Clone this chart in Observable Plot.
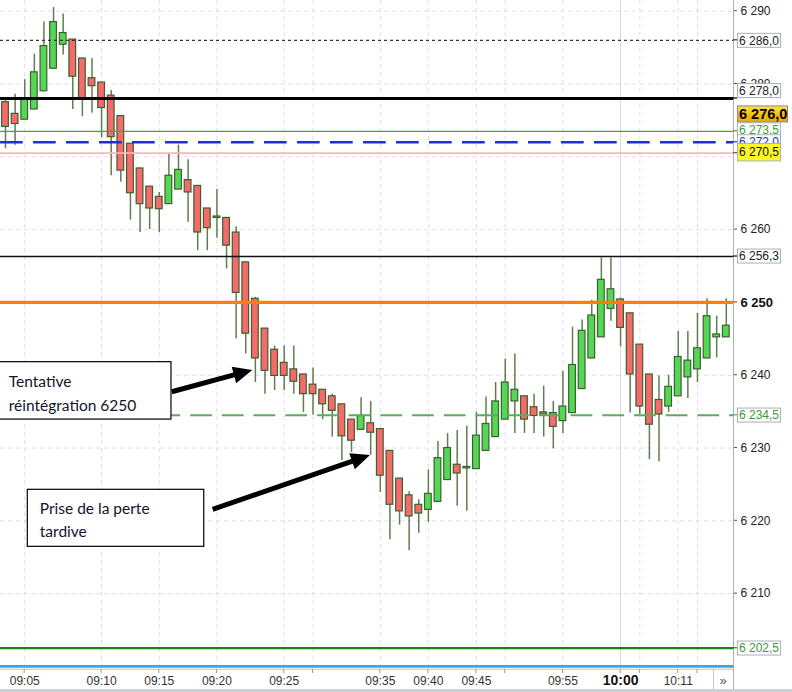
<!DOCTYPE html>
<html><head><meta charset="utf-8">
<script src="https://cdn.jsdelivr.net/npm/d3@7"></script>
<script src="https://cdn.jsdelivr.net/npm/@observablehq/plot@0.6"></script>
<style>
html,body{margin:0;padding:0;background:#fff;overflow:hidden;}
#chart svg{display:block;}
</style>
</head><body><div id="chart"></div>
<script>
// ---- data (candles, one per bar) ----
const opens = [6277.5, 6275.9, 6275.1, 6276.5, 6279.0, 6282.1, 6285.4, 6286.1, 6283.5, 6280.8,
 6280.2, 6278.4, 6275.6, 6271.8, 6268.4, 6265.9, 6264.5, 6263.5, 6265.5, 6266.8,
 6266.0, 6262.9, 6261.8, 6261.6, 6259.6, 6255.5, 6250.5, 6246.4, 6243.5, 6241.7,
 6240.8, 6240.1, 6238.7, 6238.0, 6237.1, 6236.0, 6233.9, 6232.5, 6233.4, 6232.6,
 6229.6, 6225.8, 6223.5, 6222.2, 6221.5, 6222.6, 6225.6, 6227.7, 6227.2, 6227.1,
 6229.6, 6231.5, 6233.9, 6236.4, 6237.1, 6235.6, 6234.9, 6234.8, 6233.7, 6234.8,
 6238.1, 6242.3, 6245.2, 6249.1, 6250.4, 6248.5, 6244.2, 6240.1, 6236.6, 6235.7,
 6237.1, 6239.7, 6240.8, 6242.3, 6245.2, 6245.2];
const highs = [6278.0, 6278.6, 6280.6, 6284.1, 6288.5, 6290.5, 6289.6, 6286.1, 6283.5, 6283.5,
 6280.2, 6279.1, 6275.6, 6271.8, 6268.4, 6265.9, 6265.1, 6270.5, 6271.6, 6269.6,
 6266.0, 6262.9, 6265.5, 6261.6, 6260.4, 6255.5, 6250.7, 6246.4, 6244.0, 6244.0,
 6244.0, 6240.1, 6241.0, 6238.0, 6237.4, 6236.0, 6233.9, 6236.9, 6236.4, 6232.6,
 6229.6, 6225.8, 6224.0, 6222.9, 6227.0, 6230.9, 6232.0, 6232.4, 6233.0, 6234.9,
 6237.0, 6239.0, 6242.2, 6242.9, 6237.1, 6237.4, 6238.5, 6236.4, 6240.5, 6246.6,
 6247.6, 6250.3, 6256.1, 6256.1, 6250.6, 6248.5, 6244.2, 6240.1, 6239.9, 6240.0,
 6246.0, 6246.0, 6248.5, 6250.5, 6248.1, 6250.5];
const lows = [6271.1, 6271.6, 6275.1, 6276.5, 6279.0, 6282.1, 6284.0, 6276.5, 6275.5, 6276.0,
 6272.6, 6267.4, 6266.5, 6261.3, 6259.6, 6260.0, 6259.6, 6263.5, 6265.5, 6261.0,
 6257.1, 6257.1, 6258.8, 6254.6, 6245.0, 6242.9, 6239.0, 6237.4, 6237.9, 6237.9,
 6237.4, 6234.9, 6234.5, 6233.9, 6231.5, 6228.3, 6229.4, 6232.4, 6229.0, 6223.9,
 6217.4, 6219.4, 6215.9, 6218.3, 6219.8, 6222.6, 6225.6, 6222.0, 6221.3, 6227.1,
 6229.6, 6231.5, 6233.9, 6232.0, 6232.0, 6232.0, 6231.5, 6229.9, 6232.0, 6234.8,
 6238.1, 6242.3, 6245.2, 6247.4, 6243.9, 6234.8, 6234.6, 6228.4, 6228.1, 6234.9,
 6237.1, 6236.8, 6239.0, 6242.3, 6242.4, 6245.2];
const closes = [6274.1, 6274.5, 6278.0, 6281.6, 6285.2, 6288.5, 6287.0, 6281.0, 6278.0, 6279.7,
 6276.7, 6272.7, 6268.1, 6265.0, 6263.5, 6262.9, 6262.8, 6267.4, 6268.2, 6265.1,
 6259.6, 6260.2, 6261.6, 6257.8, 6251.3, 6245.7, 6242.3, 6240.6, 6239.9, 6239.9,
 6239.1, 6237.4, 6237.4, 6236.0, 6235.1, 6231.6, 6231.0, 6234.4, 6232.1, 6226.2,
 6222.2, 6221.3, 6220.6, 6221.0, 6223.7, 6228.6, 6230.0, 6226.5, 6227.4, 6231.7,
 6233.3, 6236.4, 6239.0, 6238.0, 6233.9, 6234.4, 6234.6, 6232.9, 6235.7, 6241.4,
 6246.1, 6248.2, 6253.1, 6251.8, 6246.5, 6240.1, 6235.7, 6233.2, 6234.6, 6238.4,
 6242.5, 6242.0, 6243.7, 6248.1, 6245.6, 6246.8];

const gridPrices = [6210, 6220, 6230, 6240, 6250, 6260, 6270, 6280, 6290];
const yTickValues = [6290, 6280, 6260, 6240, 6230, 6220, 6210];
const yBoldTick = [6250];
const xTickIndex = [2, 10, 16, 22, 29, 32, 39, 44, 49, 52, 58, 64, 66, 70, 72];
const xTickLabels = ["09:05", "09:10", "09:15", "09:20", "09:25", "", "09:35", "09:40", "09:45", "", "09:55", "10:00", "", "10:11", ""];
const xBoldLabel = "10:00";
const levelPrices = [6286.0, 6278.0, 6276.0, 6273.5, 6272.0, 6270.5, 6256.3, 6250.0, 6234.5, 6202.5];

const noteTexts = ["Tentative\nréintégration 6250", "Prise de la perte\ntardive"];
const noteBoxIndex = [[-0.62, 17.27], [2.32, 20.68]];
const noteBoxPrice = [[6233.91, 6241.79], [6216.43, 6224.26]];
const noteTextAnchor = [[0.34, 6237.83], [3.57, 6220.36]];
const arrowFrom = [[17.35, 6237.66], [21.61, 6221.51]];
const arrowTo = [[25.73, 6240.65], [37.98, 6228.97]];

// ---- styles ----
const FONT = "'Liberation Sans', Arial, sans-serif";
const NOTE_FONT = "Lato, 'Open Sans', sans-serif";
const levelStyle = {
  6286:   {line: "#333", w: 1.2, dash: "3,3", box: "#fff", text: "#222", dy: 0.5},
  6278:   {line: "#000", w: 3, box: "#fff", text: "#222", dy: -7.5},
  6276:   {line: null, box: "url(#goldgrad)", text: "#000", dy: 1.3, h: 16, bw: 50, fs: 14.5, bold: true},
  6273.5: {line: "#4c9c4c", w: 1.4, box: "#fff", text: "#3a9a3a", dy: -1},
  6272:   {line: "#1f2fd6", w: 2.3, dash: "22.7,10.3", box: "#fff", text: "#1f2fd6", dy: 0},
  6270.5: {line: "#ffb5b5", w: 1.8, box: "#fbf72a", text: "#111", dy: -0.5, h: 17.5},
  6256.3: {line: "#111", w: 1.6, box: "#fff", text: "#222", dy: 0},
  6250:   {line: "#ff7d0a", w: 3.3, box: null},
  6234.5: {line: "#5aad5a", w: 2, dash: "21.7,10", box: "#fff", text: "#3a9a3a", dy: 0.3},
  6202.5: {line: "#138513", w: 2.3, box: "#fff", text: "#3a9a3a", dy: 0.3}
};
const boxOrder = [6286, 6278, 6276, 6273.5, 6272, 6270.5, 6256.3, 6234.5, 6202.5];

const locale = d3.formatLocale({decimal: ",", thousands: "\u00a0", grouping: [3], currency: ["", ""]});
const fmt1 = locale.format(",.1f");
const fmt0 = locale.format(",d");

const candles = opens.map((o, i) => ({i, open: o, high: highs[i], low: lows[i], close: closes[i]}));
const xTicks = xTickIndex.map((i, k) => ({i, label: xTickLabels[k]}));
const notes = noteTexts.map((t, k) => ({
  text: t, x1: noteBoxIndex[k][0], x2: noteBoxIndex[k][1],
  y1: noteBoxPrice[k][0], y2: noteBoxPrice[k][1],
  tx: noteTextAnchor[k][0], ty: noteTextAnchor[k][1]
}));

function chrome(index, scales, values, dims) {
  const x = scales.x, y = scales.y;
  const x0 = dims.width - dims.marginRight;
  const yb = dims.height - dims.marginBottom;
  const g = d3.create("svg:g");
  g.append("line").attr("x1", 0).attr("x2", x0).attr("y1", yb - 3.6).attr("y2", yb - 3.6)
    .attr("stroke", "#3aa5ec").attr("stroke-width", 2.6);
  g.append("line").attr("x1", 0).attr("x2", x0).attr("y1", yb - 0.8).attr("y2", yb - 0.8)
    .attr("stroke", "#b9bfc7").attr("stroke-width", 1);
  for (const i of xTickIndex) {
    g.append("line").attr("x1", x(i)).attr("x2", x(i)).attr("y1", yb - 1).attr("y2", yb + 3)
      .attr("stroke", "#8f98a3");
  }
  for (const p of yTickValues.concat(yBoldTick)) {
    g.append("line").attr("x1", x0).attr("x2", x0 + 4).attr("y1", y(p)).attr("y2", y(p))
      .attr("stroke", "#555");
  }
  g.append("line").attr("x1", x0 + 0.5).attr("x2", x0 + 0.5).attr("y1", 0).attr("y2", dims.height - 3)
    .attr("stroke", "#a7aeb8").attr("stroke-width", 1);
  g.append("line").attr("x1", x0 - 19.5).attr("x2", x0 - 19.5).attr("y1", yb - 1).attr("y2", dims.height - 3)
    .attr("stroke", "#c2c7ce");
  g.append("text").attr("x", x0 - 10).attr("y", yb + 10).attr("dy", "0.35em")
    .attr("text-anchor", "middle").attr("font-family", FONT).attr("font-size", 13)
    .attr("fill", "#555").text("»");
  g.append("rect").attr("x", 0).attr("y", dims.height - 3).attr("width", dims.width).attr("height", 3)
    .attr("fill", "#cdd1d6");
  return g.node();
}

function levelLabels(index, scales, values, dims) {
  const y = scales.y;
  const x0 = dims.width - dims.marginRight;
  const g = d3.create("svg:g").attr("font-family", FONT).attr("text-anchor", "start");
  const defs = g.append("defs");
  const lg = defs.append("linearGradient").attr("id", "goldgrad").attr("x1", 0).attr("x2", 0).attr("y1", 0).attr("y2", 1);
  lg.append("stop").attr("offset", "0%").attr("stop-color", "#ffdf55");
  lg.append("stop").attr("offset", "50%").attr("stop-color", "#f7c20a");
  lg.append("stop").attr("offset", "100%").attr("stop-color", "#e9a900");
  for (const p of levelPrices) {
    const s = levelStyle[p];
    if (!s.line) continue;
    g.append("line").attr("x1", x0).attr("x2", x0 + 4).attr("y1", y(p)).attr("y2", y(p))
      .attr("stroke", s.line === "#ffb5b5" ? "#555" : s.line).attr("stroke-width", 1.2);
  }
  for (const p of boxOrder) {
    const s = levelStyle[p];
    const yc = y(p) + (s.dy || 0);
    const h = s.h || 14;
    const w = s.bw || 43;
    g.append("rect").attr("x", x0 + 4.5).attr("y", yc - h / 2).attr("width", w).attr("height", h)
      .attr("fill", s.box).attr("stroke", s.bold ? "#8a8a8a" : "#a9b0b8").attr("stroke-width", 1);
    g.append("text").attr("x", x0 + 6).attr("y", yc).attr("dy", "0.36em")
      .attr("text-anchor", "start")
      .attr("font-size", s.fs || 12).attr("font-weight", s.bold ? "bold" : "normal")
      .attr("fill", s.text).text(fmt1(p));
  }
  return g.node();
}

function arrowHeads(index, scales, values, dims) {
  const x = scales.x, y = scales.y;
  const g = d3.create("svg:g");
  arrowFrom.forEach((f, k) => {
    const t = arrowTo[k];
    const x1 = x(f[0]), y1 = y(f[1]), x2 = x(t[0]), y2 = y(t[1]);
    const dx = x2 - x1, dy = y2 - y1, L = Math.hypot(dx, dy);
    const ux = dx / L, uy = dy / L, hl = 19, hw = 8.5;
    const bx = x2 - ux * hl, by = y2 - uy * hl;
    g.append("line").attr("x1", x1).attr("y1", y1).attr("x2", bx + ux * 2).attr("y2", by + uy * 2)
      .attr("stroke", "#000").attr("stroke-width", 5);
    g.append("path").attr("d", `M${x2},${y2}L${bx - uy * hw},${by + ux * hw}L${bx + uy * hw},${by - ux * hw}Z`)
      .attr("fill", "#000");
  });
  return g.node();
}

const levelRules = levelPrices.filter(p => levelStyle[p].line).map(p => {
  const s = levelStyle[p];
  return Plot.ruleY([p], {stroke: s.line, strokeWidth: s.w, strokeDasharray: s.dash});
});

const chart = Plot.plot({
  width: 792,
  height: 692,
  marginLeft: 0,
  marginRight: 59,
  marginTop: 0,
  marginBottom: 22,
  x: {domain: [-0.52, 75.75], axis: null},
  y: {domain: [6199.44, 6291.47], axis: null},
  color: {type: "identity"},
  style: {fontFamily: FONT, background: "#fff"},
  marks: [
    Plot.ruleY(gridPrices, {stroke: "#dcdfe7", strokeDasharray: "4,4"}),
    Plot.ruleX(xTickIndex.filter(i => i !== 64), {stroke: "#dcdfe7", strokeDasharray: "4,4"}),
    Plot.ruleX([64], {stroke: "#d3d7e8"}),
    chrome,
    Plot.ruleX(candles, {x: "i", y1: "low", y2: "high", stroke: "#5d7f4f", strokeWidth: 1.5}),
    Plot.rect(candles, {
      x1: d => d.i - 0.35, x2: d => d.i + 0.35, y1: "open", y2: "close",
      fill: d => d.close >= d.open ? "#55d655" : "#f56a6a",
      stroke: "#3d6030", strokeWidth: 1.2
    }),
    ...levelRules,
    Plot.text(yTickValues, {y: d => d, text: d => fmt0(d), frameAnchor: "right", dx: 7, textAnchor: "start", fontSize: 12, fill: "#222"}),
    Plot.text(yBoldTick, {y: d => d, text: d => fmt0(d), frameAnchor: "right", dx: 7, textAnchor: "start", fontSize: 13, fontWeight: "bold", fill: "#111"}),
    levelLabels,
    Plot.text(xTicks.filter(d => d.label && d.label !== xBoldLabel), {x: "i", text: "label", frameAnchor: "bottom", dy: 10.5, lineAnchor: "middle", fontSize: 12, fill: "#333"}),
    Plot.text(xTicks.filter(d => d.label === xBoldLabel), {x: "i", text: "label", frameAnchor: "bottom", dy: 10.5, lineAnchor: "middle", fontSize: 14, fontWeight: "bold", fill: "#111"}),
    Plot.rect(notes, {x1: "x1", x2: "x2", y1: "y1", y2: "y2", fill: "#fff", stroke: "#000", strokeWidth: 1.2}),
    Plot.text(notes.slice(0, 1), {x: "tx", y: "ty", text: "text", textAnchor: "start", lineAnchor: "middle", lineHeight: 1.575, fontSize: 15.5, fontFamily: NOTE_FONT, fill: "#14142a"}),
    Plot.text(notes.slice(1), {x: "tx", y: "ty", text: "text", textAnchor: "start", lineAnchor: "middle", lineHeight: 1.5, fontSize: 15.5, fontFamily: NOTE_FONT, fill: "#14142a"}),
    arrowHeads
  ]
});
document.getElementById("chart").append(chart);
</script>
</body></html>
